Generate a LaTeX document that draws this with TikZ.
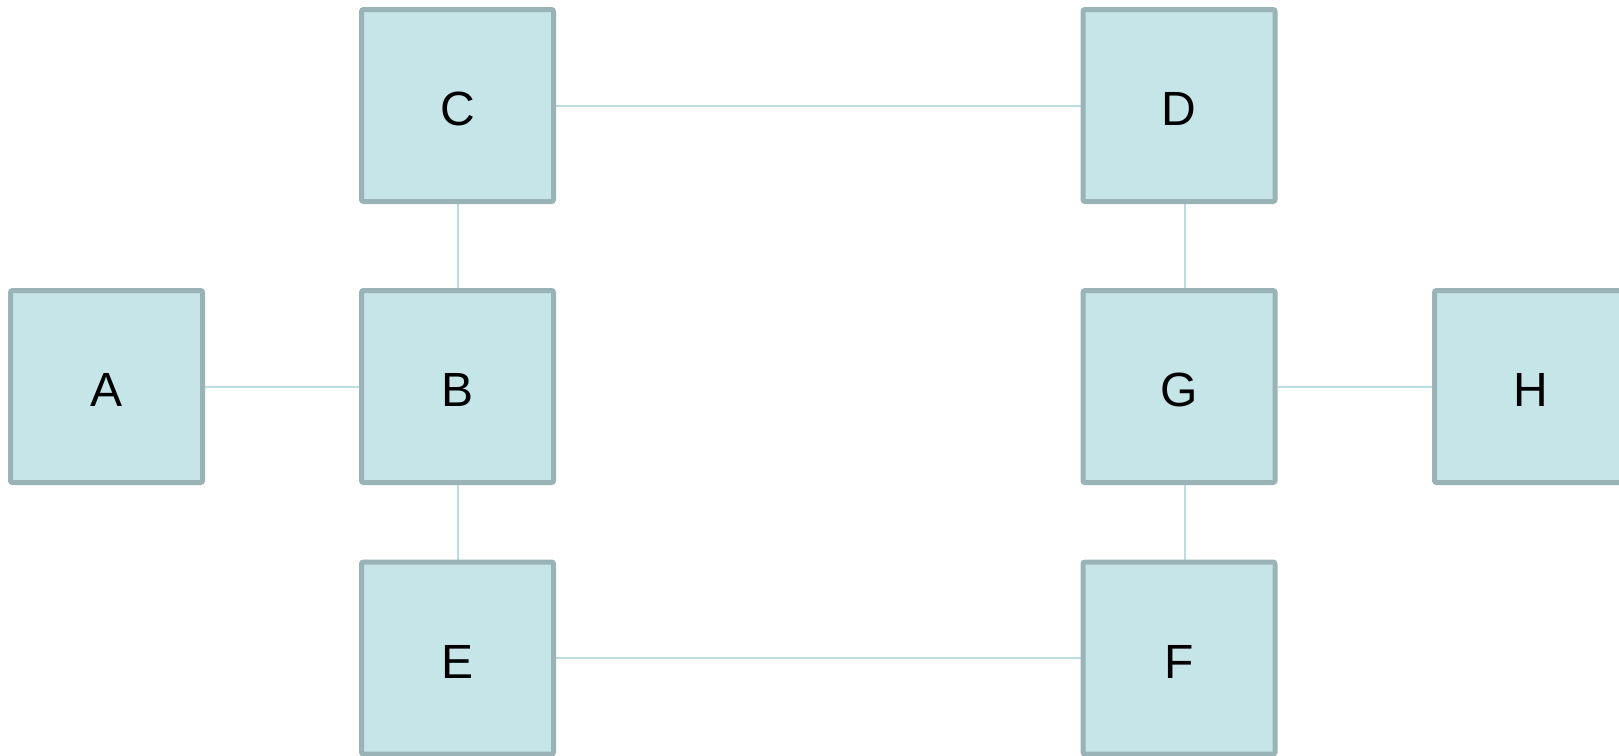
\documentclass[tikz,border=0pt]{standalone}
\usepackage{fontspec}
\setmainfont{Liberation Sans}
\usetikzlibrary{backgrounds}
\definecolor{boxfill}{HTML}{C5E5E8}
\definecolor{boxline}{HTML}{9AB3B7}
\definecolor{linkcol}{HTML}{BCDEE2}
\begin{document}
\begin{tikzpicture}[x=1pt,y=-1pt,
  box/.style={draw=boxline, fill=boxfill, line width=5pt, rounded corners=2pt,
    minimum width=192pt, minimum height=192pt, inner sep=0pt,
    font=\fontsize{48}{48}\selectfont, text height=40pt, text depth=0pt},
  link/.style={draw=linkcol, line width=2pt}]
\useasboundingbox (0,0) rectangle (1619,755);
\node[box] (A) at (106.5,386.5) {A};
\node[box] (B) at (457.5,386.5) {B};
\node[box] (C) at (457.5,105.5) {C};
\node[box] (D) at (1179,105.5) {D};
\node[box] (G) at (1179,386.5) {G};
\node[box] (H) at (1530.5,386.5) {H};
\node[box] (E) at (457.5,658) {E};
\node[box] (F) at (1179,658) {F};
\begin{scope}[on background layer]
\draw[link] (A.east) -- (B.west);
\draw[link] (C.south) -- (B.north);
\draw[link] (B.south) -- (E.north);
\draw[link] (C.east) -- (D.west);
\draw[link] (E.east) -- (F.west);
\draw[link] ([xshift=6pt]D.south) -- ([xshift=6pt]G.north);
\draw[link] ([xshift=6pt]G.south) -- ([xshift=6pt]F.north);
\draw[link] (G.east) -- (H.west);
\end{scope}
\end{tikzpicture}
\end{document}
